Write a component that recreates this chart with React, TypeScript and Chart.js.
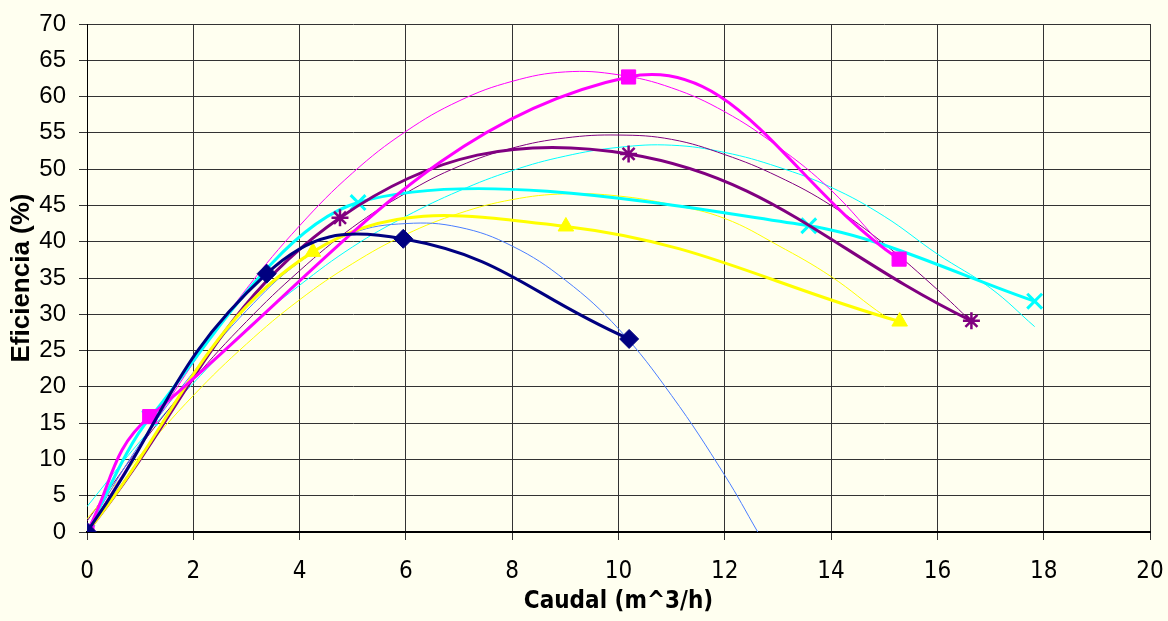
import { useEffect, useRef } from 'react';
import { Chart, registerables } from 'chart.js';
Chart.register(...registerables);

const BG = '#FFFFF0';

// Measured series (thick smoothed lines with markers)
const navyX = [0, 3.38, 5.95, 10.2];
const navyY = [0, 35.6, 40.4, 26.6];
const magentaX = [0, 1.18, 10.19, 15.28];
const magentaY = [0, 15.9, 62.7, 37.6];
const yellowX = [0, 4.25, 9.01, 15.29];
const yellowY = [0, 38.6, 42.1, 29.0];
const purpleX = [0, 4.76, 10.19, 16.64];
const purpleY = [0, 43.3, 52.1, 29.1];
const cyanX = [0, 1.18, 5.1, 13.58, 17.83];
const cyanY = [0, 15.7, 45.4, 42.2, 31.8];

// Trend curves (thin lines)
const trendBlueX = [0, 1, 2, 3, 4, 5, 6, 7, 8, 9, 10, 11, 12, 12.62];
const trendBlueY = [0.3, 12.2, 22, 30.5, 37.2, 41.2, 42.5, 42, 39.4, 34.7, 28, 18.8, 7.8, 0];
const trendMagentaX = [0, 1, 2, 3, 4, 5, 6, 7, 8, 9, 10, 11, 12, 13, 14, 15, 15.28];
const trendMagentaY = [0, 11.8, 23.3, 33.5, 42.2, 49.5, 55.2, 59.4, 62.1, 63.4, 63.0, 61.2, 57.9, 53.1, 47.1, 39.2, 37.4];
const trendYellowX = [0, 1, 2, 3, 4, 5, 6, 7, 8, 9, 10, 11, 12, 13, 14, 15, 15.29];
const trendYellowY = [1.8, 10.6, 18.8, 25.9, 32, 37, 41, 43.9, 45.8, 46.6, 46.3, 45.1, 43.2, 39.5, 35.2, 29.8, 28.8];
const trendPurpleX = [0, 1, 2, 3, 4, 5, 6, 7, 8, 9, 10, 11, 12, 13, 14, 15, 16, 16.64];
const trendPurpleY = [1.5, 11.8, 21, 29, 36, 42, 46.7, 50.4, 52.9, 54.3, 54.7, 54.1, 52, 49, 45, 39.7, 33.4, 29];
const trendCyanX = [0, 1, 2, 3, 4, 5, 6, 7, 8, 9, 10, 11, 12, 13, 14, 15, 16, 17, 17.83];
const trendCyanY = [3.5, 12.5, 20.5, 28, 34, 39.3, 43.5, 47, 49.8, 51.8, 53, 53.3, 52.3, 50.3, 47.5, 43.5, 38.3, 33.6, 28.3];

const xTicksMin = 0;
const xTicksMax = 20;
const xStep = 2;
const yTicksMin = 0;
const yTicksMax = 70;
const yStep = 5;

const NARROW = "'Liberation Sans Narrow', 'DejaVu Sans Condensed', 'Liberation Sans', Arial, sans-serif";
const SANS = "'Liberation Sans', Arial, sans-serif";

function pts(xs: number[], ys: number[]) {
  return xs.map((x, i) => ({ x, y: ys[i] }));
}

function mainSeries(label: string, xs: number[], ys: number[], color: string, style: any, radius: number, bw: number, tension: number) {
  return {
    label,
    data: pts(xs, ys),
    showLine: true,
    borderColor: color,
    backgroundColor: color,
    borderWidth: 3,
    tension,
    pointStyle: style,
    pointRadius: radius,
    pointBorderWidth: bw,
    pointBorderColor: color,
    pointBackgroundColor: color,
  };
}

function trendSeries(label: string, xs: number[], ys: number[], color: string) {
  return {
    label,
    data: pts(xs, ys),
    showLine: true,
    borderColor: color,
    backgroundColor: color,
    borderWidth: 1,
    tension: 0.4,
    pointRadius: 0,
  };
}

export default function App() {
  const ref = useRef<HTMLCanvasElement>(null);
  useEffect(() => {
    document.body.style.margin = '0';
    document.body.style.background = BG;
    const chart = new Chart(ref.current!, {
      type: 'scatter',
      data: {
        datasets: [
          mainSeries('S1', navyX, navyY, '#000080', 'rectRot', 9.5, 1, 0.45),
          mainSeries('S2', magentaX, magentaY, '#FF00FF', 'rect', 10, 1, 0.4),
          mainSeries('S3', yellowX, yellowY, '#FFFF00', 'triangle', 9, 1, 0.4),
          mainSeries('S4', purpleX, purpleY, '#800080', 'star', 8.5, 2.5, 0.4),
          mainSeries('S5', cyanX, cyanY, '#00FFFF', 'crossRot', 10.5, 3, 0.3),
          trendSeries('T1', trendBlueX, trendBlueY, '#4a7dff'),
          trendSeries('T2', trendMagentaX, trendMagentaY, '#FF00FF'),
          trendSeries('T3', trendYellowX, trendYellowY, '#FFFF00'),
          trendSeries('T4', trendPurpleX, trendPurpleY, '#800080'),
          trendSeries('T5', trendCyanX, trendCyanY, '#00FFFF'),
        ] as any,
      },
      options: {
        animation: false,
        responsive: false,
        layout: { padding: { top: 24, right: 18, left: 0, bottom: 0 } },
        plugins: { legend: { display: false }, tooltip: { enabled: false } },
        scales: {
          x: {
            type: 'linear',
            min: xTicksMin,
            max: xTicksMax,
            ticks: { stepSize: xStep, color: '#000', padding: 17, font: { family: NARROW, size: 24 } },
            grid: { color: '#333', lineWidth: 1, tickLength: 8 },
            border: { color: '#000', width: 2 },
            title: {
              display: true,
              text: 'Caudal (m^3/h)',
              color: '#000',
              font: { family: NARROW, size: 24, weight: 'bold' },
              padding: { top: 0, bottom: 5 },
            },
            afterFit: (s: any) => { s.height = 89; s.paddingRight = 0; s.paddingLeft = 0; },
          },
          y: {
            type: 'linear',
            min: yTicksMin,
            max: yTicksMax,
            ticks: { stepSize: yStep, color: '#000', padding: 13, font: { family: SANS, size: 24 } },
            grid: { color: '#333', lineWidth: 1, tickLength: 8 },
            border: { color: '#000', width: 1 },
            title: {
              display: true,
              text: 'Eficiencia (%)',
              color: '#000',
              font: { family: SANS, size: 26, weight: 'bold' },
              padding: { top: 6, bottom: 0 },
            },
            afterFit: (s: any) => { s.width = 87; s.paddingTop = 0; s.paddingBottom = 0; },
          },
        },
      } as any,
    });
    return () => chart.destroy();
  }, []);
  return (
    <div style={{ width: 1168, height: 621, background: BG }}>
      <canvas ref={ref} width={1168} height={621} style={{ display: 'block' }} />
    </div>
  );
}
